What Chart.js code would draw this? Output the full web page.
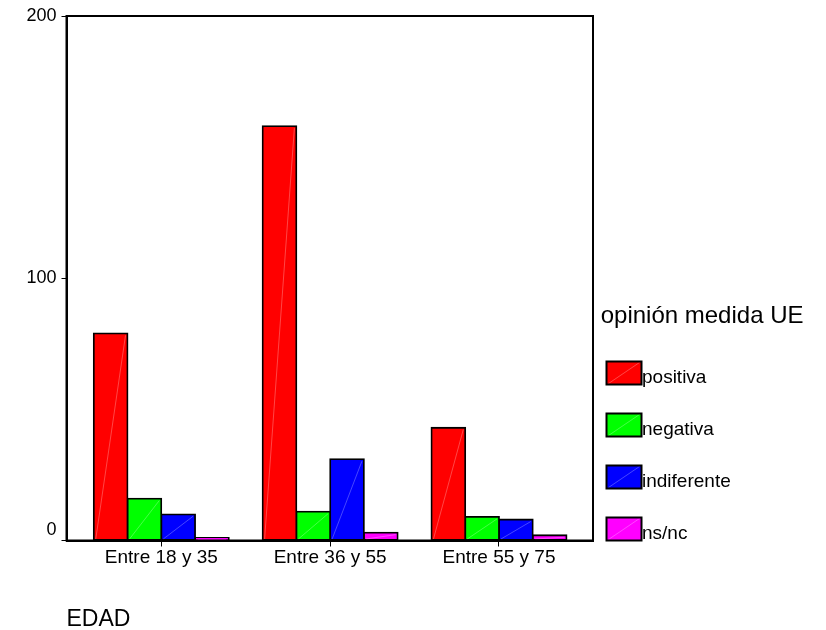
<!DOCTYPE html>
<html>
<head>
<meta charset="utf-8">
<script src="https://cdn.jsdelivr.net/npm/chart.js@4.4.0/dist/chart.umd.min.js"></script>
<style>
  html, body { margin: 0; padding: 0; background: #ffffff; }
  #wrap { width: 826px; height: 630px; }
</style>
</head>
<body>
<div id="wrap"><canvas id="c" width="826" height="630"></canvas></div>
<script>
// Age groups on the x axis
const categories = ['Entre 18 y 35', 'Entre 36 y 55', 'Entre 55 y 75'];

// Counts per opinion about the EU measure
const positiva    = [79, 158, 43];
const negativa    = [16, 11, 9];
const indiferente = [10, 31, 8];
const nsnc        = [1, 3, 2];

const seriesNames  = ['positiva', 'negativa', 'indiferente', 'ns/nc'];
const seriesValues = [positiva, negativa, indiferente, nsnc];
const seriesColors = ['#ff0000', '#00ff00', '#0000ff', '#ff00ff'];

const yTicks = [0, 100, 200];
const legendTitle = 'opinión medida UE';
const xTitle = 'EDAD';

const FONT = "'Liberation Sans', Arial, Helvetica, sans-serif";
Chart.defaults.font.family = FONT;
Chart.defaults.color = '#000000';

// Thin light diagonal across each bar, corner to corner
const barDiagonals = {
  id: 'barDiagonals',
  afterDatasetsDraw(chart) {
    const ctx = chart.ctx;
    ctx.save();
    ctx.strokeStyle = 'rgba(255,255,255,0.35)';
    ctx.lineWidth = 0.8;
    chart.data.datasets.forEach((ds, i) => {
      chart.getDatasetMeta(i).data.forEach(bar => {
        const p = bar.getProps(['x', 'y', 'base', 'width'], true);
        if (Math.abs(p.base - p.y) < 4) return;
        ctx.beginPath();
        ctx.moveTo(p.x - p.width / 2 + 2, p.base - 1);
        ctx.lineTo(p.x + p.width / 2 - 2, p.y + 2);
        ctx.stroke();
      });
    });
    ctx.restore();
  }
};

// Closed frame round the plot area
const plotFrame = {
  id: 'plotFrame',
  afterDatasetsDraw(chart) {
    const a = chart.chartArea;
    const ctx = chart.ctx;
    ctx.save();
    ctx.strokeStyle = '#000000';
    ctx.lineWidth = 2;
    ctx.strokeRect(a.left, a.top, a.right - a.left, a.bottom - a.top);
    ctx.restore();
  }
};

// Legend to the right of the plot, rows aligned to the bottom of the plot
const sideLegend = {
  id: 'sideLegend',
  afterDraw(chart) {
    const a = chart.chartArea;
    const ctx = chart.ctx;
    const boxW = 35, boxH = 23, pitch = 52;
    const x0 = a.right + 13.5;
    const n = chart.data.datasets.length;
    const firstY = a.bottom - boxH - (n - 1) * pitch;
    ctx.save();
    ctx.fillStyle = '#000000';
    ctx.textAlign = 'left';
    ctx.textBaseline = 'alphabetic';
    ctx.font = '24px ' + FONT;
    ctx.fillText(legendTitle, a.right + 7.7, firstY - 38.5);
    ctx.font = '19px ' + FONT;
    chart.data.datasets.forEach((ds, i) => {
      const y = firstY + i * pitch;
      ctx.fillStyle = ds.backgroundColor;
      ctx.fillRect(x0, y, boxW, boxH);
      ctx.strokeStyle = 'rgba(255,255,255,0.35)';
      ctx.lineWidth = 0.8;
      ctx.beginPath();
      ctx.moveTo(x0 + 2, y + boxH - 1);
      ctx.lineTo(x0 + boxW - 2, y + 1);
      ctx.stroke();
      ctx.strokeStyle = '#000000';
      ctx.lineWidth = 2;
      ctx.strokeRect(x0, y, boxW, boxH);
      ctx.fillStyle = '#000000';
      ctx.fillText(ds.label, x0 + boxW + 0.5, y + boxH - 1.5);
    });
    ctx.restore();
  }
};

const datasets = seriesNames.map((name, i) => ({
  label: name,
  data: seriesValues[i].map((v, j) => ({ x: j, y: v })),
  backgroundColor: seriesColors[i],
  borderColor: '#000000',
  borderWidth: 1.8,
  borderSkipped: false,
  inflateAmount: 0.9,
  categoryPercentage: 0.8,
  barPercentage: 1.0
}));

new Chart(document.getElementById('c'), {
  type: 'bar',
  data: { datasets },
  plugins: [barDiagonals, plotFrame, sideLegend],
  options: {
    responsive: false,
    animation: false,
    devicePixelRatio: 1,
    layout: { padding: { left: 0, right: 233, top: 16, bottom: 0 } },
    plugins: {
      legend: { display: false },
      tooltip: { enabled: false }
    },
    scales: {
      x: {
        type: 'linear',
        min: -0.5614,
        max: 2.5567,
        offset: false,
        afterBuildTicks: s => { s.ticks = categories.map((_, i) => ({ value: i })); },
        afterFit: s => { s.height = 89.5; },
        ticks: {
          font: { size: 19 },
          color: '#000000',
          padding: 0,
          maxRotation: 0,
          autoSkip: false,
          callback: v => categories[v] ?? ''
        },
        grid: { drawOnChartArea: false, offset: false, tickLength: 6, color: '#000000', lineWidth: 1 },
        border: { display: true, color: '#000000', width: 2 },
        title: {
          display: true,
          text: xTitle,
          align: 'start',
          color: '#000000',
          font: { size: 23, lineHeight: 1 },
          padding: { top: 0, bottom: -1 }
        }
      },
      y: {
        min: 0,
        max: 200,
        afterBuildTicks: s => { s.ticks = yTicks.map(v => ({ value: v })); },
        afterFit: s => { s.width = 66.5; },
        ticks: {
          font: { size: 18 },
          color: '#000000',
          padding: 5,
          callback: v => (v === 0 ? ['0', ''] : String(v))
        },
        grid: { drawOnChartArea: false, tickLength: 5, color: '#000000', lineWidth: 1 },
        border: { display: true, color: '#000000', width: 2 }
      }
    }
  }
});
</script>
</body>
</html>
